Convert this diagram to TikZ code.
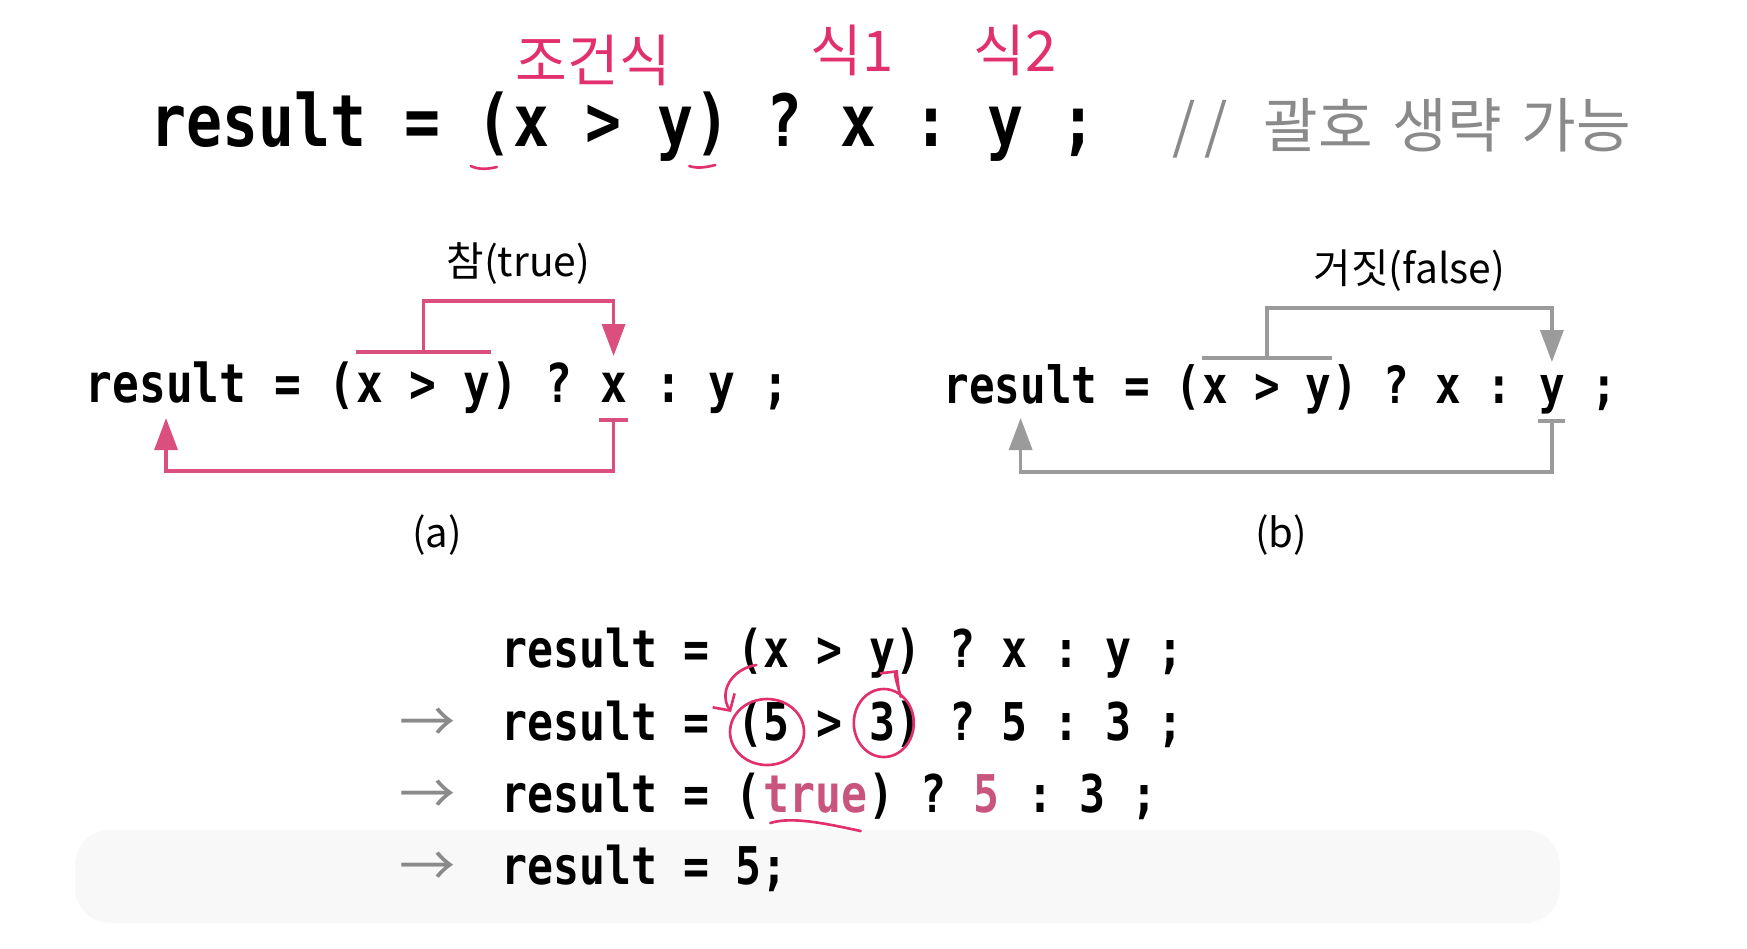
\documentclass[tikz,border=0pt]{standalone}
\usepackage{fontspec}
\newfontfamily\codefont[FakeStretch=0.83]{DejaVu Sans Mono}
\newfontfamily\krfont{Noto Sans CJK KR}
\usetikzlibrary{arrows.meta,calc,positioning}
\definecolor{markPink}{HTML}{DA4F7E}
\definecolor{inkPink}{HTML}{E2306F}
\definecolor{truePink}{HTML}{C9557F}
\definecolor{falseGray}{HTML}{9B9B9B}
\definecolor{noteGray}{HTML}{8A8A8A}
\definecolor{playerGray}{HTML}{F8F8F8}
% one blank column of the monospaced code
\newcommand\gap{\hphantom{x}}
\tikzset{
  codeBit/.style={inner sep=0pt, anchor=base west},
  codeBig/.style={codeBit, font=\codefont\bfseries\fontsize{20.5pt}{25pt}\selectfont},
  codeA/.style={codeBit, font=\codefont\bfseries\fontsize{15.25pt}{18pt}\selectfont},
  codeB/.style={codeBit, font=\codefont\bfseries\fontsize{14.6pt}{18pt}\selectfont},
  codeLow/.style={codeBit, font=\codefont\bfseries\fontsize{14.8pt}{18pt}\selectfont},
  branchLabel/.style={font=\krfont\fontsize{11.6pt}{14pt}\selectfont, inner sep=0pt},
  caption/.style={font=\krfont\fontsize{11.4pt}{14pt}\selectfont, inner sep=0pt},
  trueEdge/.style={markPink, line width=0.95pt},
  falseEdge/.style={falseGray, line width=0.95pt},
  branchTip/.style={-{Triangle[length=3.2mm,width=2.3mm]}},
  handInk/.style={inkPink, line width=0.75pt, line cap=round},
  handNote/.style={inkPink, font=\krfont\fontsize{16pt}{18pt}\selectfont, inner sep=0pt},
  stepArrow/.style={noteGray, font=\krfont\fontsize{16pt}{18pt}\selectfont, inner sep=0pt}
}

\begin{document}
\begin{tikzpicture}[x=0.1mm, y=-0.1mm]
  \useasboundingbox (0,0) rectangle (1747,948);
  % player bar of the video, very faint
  \fill[playerGray, rounded corners=3.5mm] (75,830) rectangle (1560,923);

  % headline
  \node[codeBig] (resT) at (150,146) {result};
  \node[codeBig, base right=0pt of resT] (openT) {\gap=\gap(};
  \node[codeBig, base right=0pt of openT] (condT) {x\gap>\gap y};
  \node[codeBig, base right=0pt of condT] (closeT) {)\gap?\gap};
  \node[codeBig, base right=0pt of closeT] (thenT) {x};
  \node[codeBig, base right=0pt of thenT] (colT) {\gap:\gap};
  \node[codeBig, base right=0pt of colT] (elseT) {y};
  \node[codeBig, base right=0pt of elseT] (endT) {\gap;};
  \node[codeBit, noteGray, font=\krfont\fontsize{16.9pt}{20pt}\selectfont] (noteT)
    at (1172,147) {/\hspace{0.15em}/\hspace{0.6em}괄호\hspace{0.33em}생략\hspace{0.33em}가능};
  \node[handNote] (condNote) at ($(condT.base)+(-10,-86)$) {조건식};
  \node[handNote] (thenNote) at ($(thenT.base)+(-6,-96)$) {식1};
  \node[handNote] (elseNote) at ($(elseT.base)+(10,-96)$) {식2};
  \draw[handInk] ($(condT.base west)+(-42,20)$) .. controls +(8,4) and +(-8,2) .. ++(26,1);
  \draw[handInk] ($(closeT.base west)+(-5,20)$) .. controls +(8,3) and +(-8,2) .. ++(26,-1);

  % (a) true branch
  \node[codeA] (resA) at (85,402) {result};
  \node[codeA, base right=0pt of resA] (openA) {\gap=\gap(};
  \node[codeA, base right=0pt of openA] (condA) {x\gap>\gap y};
  \node[codeA, base right=0pt of condA] (closeA) {)\gap?\gap};
  \node[codeA, base right=0pt of closeA] (thenA) {x};
  \node[codeA, base right=0pt of thenA] (tailA) {\gap:\gap y\gap;};
  \draw[trueEdge] ($(condA.base west)+(0,-50)$) -- ($(condA.base east)+(0,-50)$);
  \draw[trueEdge, branchTip] ($(condA.base)+(0,-50)$) -- ++(0,-51) coordinate (turnA)
    -| ($(thenA.base)+(0,-46)$);
  \draw[trueEdge] ($(thenA.base west)+(0,18)$) -- ($(thenA.base east)+(0,18)$);
  \draw[trueEdge, branchTip] ($(thenA.base)+(0,18)$) -- ++(0,51) -| ($(resA.base)+(0,16)$);
  \node[branchLabel, anchor=south, above=1.6mm] (lblA) at ($(turnA)!0.5!(turnA -| thenA.base)$) {참(true)};
  \node[caption] (capA) at (437,535) {(a)};

  % (b) false branch
  \node[codeB] (resB) at (943,403) {result};
  \node[codeB, base right=0pt of resB] (openB) {\gap=\gap(};
  \node[codeB, base right=0pt of openB] (condB) {x\gap>\gap y};
  \node[codeB, base right=0pt of condB] (midB) {)\gap?\gap x\gap:\gap};
  \node[codeB, base right=0pt of midB] (elseB) {y};
  \node[codeB, base right=0pt of elseB] (endB) {\gap;};
  \draw[falseEdge] ($(condB.base west)+(0,-45)$) -- ($(condB.base east)+(0,-45)$);
  \draw[falseEdge, branchTip] ($(condB.base)+(0,-45)$) -- ++(0,-50) coordinate (turnB)
    -| ($(elseB.base)+(0,-41)$);
  \draw[falseEdge] ($(elseB.base west)+(0,18)$) -- ($(elseB.base east)+(0,18)$);
  \draw[falseEdge, branchTip] ($(elseB.base)+(0,18)$) -- ++(0,51) -| ($(resB.base)+(0,15)$);
  \node[branchLabel, anchor=south, above=1.6mm] (lblB) at ($(turnB)!0.5!(turnB -| elseB.base)$) {거짓(false)};
  \node[caption] (capB) at (1281,535) {(b)};

  % evaluation steps
  \node[codeLow] (resL1) at (501,667) {result\gap=\gap};
  \node[codeLow, base right=0pt of resL1] (openL1) {(x};
  \node[codeLow, base right=0pt of openL1] (gtL1) {\gap>\gap};
  \node[codeLow, base right=0pt of gtL1] (closeL1) {y)};
  \node[codeLow, base right=0pt of closeL1] (tailL1) {\gap?\gap x\gap:\gap y\gap;};

  \node[codeLow] (resL2) at (501,740) {result\gap=\gap};
  \node[codeLow, base right=0pt of resL2] (fiveL2) {(5};
  \node[codeLow, base right=0pt of fiveL2] (gtL2) {\gap>\gap};
  \node[codeLow, base right=0pt of gtL2] (threeL2) {3)};
  \node[codeLow, base right=0pt of threeL2] (tailL2) {\gap?\gap5\gap:\gap3\gap;};

  \node[codeLow] (resL3) at (501,812) {result\gap=\gap(};
  \node[codeLow, truePink, base right=0pt of resL3] (trueL3) {true};
  \node[codeLow, base right=0pt of trueL3] (closeL3) {)\gap?\gap};
  \node[codeLow, truePink, base right=0pt of closeL3] (fiveL3) {5};
  \node[codeLow, base right=0pt of fiveL3] (tailL3) {\gap:\gap3\gap;};

  \node[codeLow] (resL4) at (501,884) {result\gap=\gap5;};

  \node[stepArrow] (stepL2) at ($(resL2.base west)+(-73,-15)$) {→};
  \node[stepArrow] (stepL3) at ($(resL3.base west)+(-73,-15)$) {→};
  \node[stepArrow] (stepL4) at ($(resL4.base west)+(-73,-15)$) {→};

  % pen marks
  \draw[handInk] ($(fiveL2.base)+(4,-8)$) ellipse [x radius=37, y radius=33];
  \draw[handInk] ($(threeL2.base)+(-12,-17)$) ellipse [x radius=30, y radius=34];
  \draw[handInk, -{Straight Barb[length=1.2mm,width=2.6mm]}] ($(openL1.base west)+(20,-2)$)
    .. controls ($(openL1.base west)+(-5,2)$) and ($(openL1.base west)+(-18,25)$) .. ($(fiveL2.base)+(-32,-28)$);
  \draw[handInk, -{Straight Barb[length=1.2mm,width=2.4mm]}] ($(threeL2.base)+(5,-43)$)
    .. controls ($(threeL2.base)+(2,-55)$) and ($(closeL1.base)+(-2,8)$) .. ($(closeL1.base)+(2,3)$);
  \draw[handInk] ($(trueL3.base west)+(8,11)$) .. controls ($(trueL3.base west)+(30,4)$)
    and ($(trueL3.base east)+(-40,12)$) .. ($(trueL3.base east)+(-7,19)$);
\end{tikzpicture}
\end{document}
